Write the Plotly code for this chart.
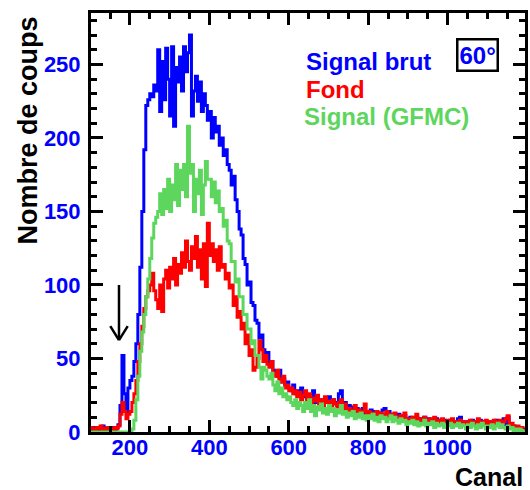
import plotly.graph_objects as go

# bin start channels (5-channel bins)
channels = list(range(100, 1200, 5))

signal_brut = [
    2, 1, 3, 0, 2, 1, 4, 2, 0, 1,
    2, 3, 1, 3, 5, 18, 52, 26, 14, 30,
    35, 38, 48, 60, 80, 112, 150, 192, 222, 226,
    230, 228, 236, 232, 260, 218, 252, 226, 261, 240,
    215, 262, 208, 248, 238, 255, 232, 262, 245, 258,
    270, 215, 232, 242, 225, 238, 218, 230, 222, 212,
    218, 200, 214, 204, 208, 195, 200, 188, 192, 182,
    178, 168, 174, 158, 150, 138, 134, 118, 114, 100,
    102, 88, 86, 76, 74, 64, 66, 56, 50, 54,
    46, 48, 42, 40, 38, 42, 34, 36, 32, 34,
    30, 28, 32, 26, 28, 25, 30, 24, 26, 23,
    24, 22, 28, 20, 24, 21, 22, 19, 22, 20,
    24, 18, 22, 20, 19, 26, 28, 18, 20, 17,
    18, 16, 17, 14, 16, 13, 15, 16, 12, 14,
    13, 15, 12, 14, 11, 13, 10, 15, 16, 12,
    14, 10, 12, 11, 9, 12, 10, 8, 11, 9,
    8, 10, 9, 7, 10, 8, 9, 7, 10, 8,
    9, 7, 8, 6, 9, 7, 8, 5, 8, 6,
    7, 8, 5, 7, 6, 9, 10, 6, 7, 5,
    7, 6, 8, 5, 7, 6, 8, 5, 7, 6,
    6, 7, 5, 6, 8, 5, 7, 6, 9, 5,
    10, 4, 3, 4, 2, 3, 2, 1, 2, 1,
]

fond = [
    3, 2, 1, 3, 2, 4, 1, 2, 3, 1,
    2, 1, 3, 2, 4, 12, 20, 14, 9, 12,
    14, 20, 26, 35, 48, 60, 72, 84, 92, 96,
    100, 108, 96, 90, 84, 100, 82, 104, 110, 98,
    112, 104, 118, 100, 114, 108, 122, 112, 130, 116,
    110, 126, 118, 133, 112, 124, 104, 128, 99, 142,
    120, 128, 116, 124, 110, 126, 112, 114, 104, 108,
    98, 100, 86, 92, 78, 82, 70, 74, 60, 66,
    52, 56, 42, 44, 50, 62, 56, 48, 52, 46,
    44, 48, 40, 38, 42, 36, 34, 38, 30, 32,
    28, 30, 26, 28, 24, 27, 22, 25, 28, 22,
    26, 20, 23, 21, 25, 19, 22, 18, 24, 20,
    21, 18, 22, 19, 17, 20, 22, 16, 19, 14,
    16, 13, 15, 18, 13, 15, 12, 14, 19, 12,
    14, 11, 13, 10, 14, 12, 13, 10, 12, 14,
    10, 12, 9, 13, 10, 8, 11, 9, 13, 8,
    9, 7, 10, 8, 12, 7, 9, 8, 10, 6,
    8, 9, 6, 10, 7, 8, 6, 9, 7, 5,
    8, 6, 9, 5, 7, 6, 8, 7, 5, 7,
    6, 8, 5, 7, 6, 9, 5, 7, 6, 8,
    5, 7, 6, 8, 5, 7, 8, 6, 7, 9,
    11, 5, 6, 4, 3, 4, 2, 3, 1, 2,
]

signal_gfmc = [
    0, 0, 0, 0, 0, 0, 0, 0, 0, 0,
    0, 0, 0, 0, 0, 0, 0, 0, 0, 0,
    0, 2, 8, 22, 38, 55, 68, 80, 92, 104,
    118, 132, 142, 146, 150, 162, 148, 165, 152, 172,
    150, 168, 158, 182, 154, 178, 165, 182, 160, 208,
    176, 182, 150, 172, 162, 178, 148, 168, 184, 172,
    172, 160, 170, 156, 164, 150, 152, 140, 144, 130,
    128, 116, 116, 102, 104, 92, 92, 80, 80, 70,
    70, 60, 62, 52, 52, 44, 36, 44, 42, 38,
    36, 40, 32, 28, 34, 26, 30, 24, 26, 22,
    24, 20, 18, 22, 16, 20, 18, 14, 20, 16,
    22, 14, 18, 11, 17, 15, 19, 13, 16, 12,
    18, 14, 16, 11, 15, 13, 18, 12, 14, 10,
    13, 11, 14, 9, 12, 10, 13, 9, 11, 8,
    11, 9, 12, 8, 10, 7, 11, 9, 10, 7,
    9, 11, 7, 10, 8, 6, 9, 7, 8, 5,
    7, 6, 8, 5, 7, 4, 6, 5, 8, 4,
    6, 5, 7, 3, 6, 4, 5, 6, 3, 5,
    4, 6, 3, 5, 4, 6, 3, 5, 4, 2,
    5, 3, 6, 4, 2, 5, 3, 6, 4, 2,
    4, 3, 5, 2, 4, 6, 3, 5, 3, 2,
    4, 2, 3, 1, 2, 1, 2, 1, 0, 1,
]

x_tick_vals = [200, 400, 600, 800, 1000]
y_tick_vals = [0, 50, 100, 150, 200, 250]

BLUE = "#0000ff"
RED = "#ff0000"
GREEN = "#5dd65d"
FONT = "Liberation Sans"

fig = go.Figure()
for vals, col, name in [(signal_brut, BLUE, "Signal brut"),
                        (fond, RED, "Fond"),
                        (signal_gfmc, GREEN, "Signal (GFMC)")]:
    fig.add_trace(go.Scatter(x=channels, y=vals, mode="lines", name=name,
                             line=dict(color=col, width=3, shape="hv"),
                             showlegend=False))

axis_common = dict(
    showline=True, linecolor="black", linewidth=3, mirror="allticks",
    ticks="inside", ticklen=12, tickwidth=2.5, tickcolor="black",
    showgrid=False, zeroline=False,
    tickfont=dict(family=FONT, size=22, color=BLUE, weight="bold"),
)

fig.update_layout(
    width=530, height=490,
    margin=dict(l=91, r=2, t=13, b=58),
    plot_bgcolor="white", paper_bgcolor="white",
    xaxis=dict(range=[102, 1195], tickvals=x_tick_vals, ticklabelstandoff=-6,
               minor=dict(dtick=50, tick0=0, ticks="inside", ticklen=6,
                          tickwidth=2.5, tickcolor="black", showgrid=False),
               **axis_common),
    yaxis=dict(range=[0, 285], tickvals=y_tick_vals, ticklabelstandoff=3,
               minor=dict(dtick=10, tick0=0, ticks="inside", ticklen=6,
                          tickwidth=2.5, tickcolor="black", showgrid=False),
               **axis_common),
)

txt = dict(family=FONT, size=24, weight="bold")
fig.add_annotation(text="Signal brut", xref="paper", yref="paper",
                   x=(305 - 91) / 437, y=(432 - 61) / 419, xanchor="left", yanchor="middle",
                   showarrow=False, font=dict(color=BLUE, **txt))
fig.add_annotation(text="Fond", xref="paper", yref="paper",
                   x=(305 - 91) / 437, y=(432 - 89) / 419, xanchor="left", yanchor="middle",
                   showarrow=False, font=dict(color=RED, **txt))
fig.add_annotation(text="Signal (GFMC)", xref="paper", yref="paper",
                   x=(303 - 91) / 437, y=(432 - 116) / 419, xanchor="left", yanchor="middle",
                   showarrow=False, font=dict(color=GREEN, **txt))
fig.add_annotation(text="60°", xref="paper", yref="paper",
                   x=(480 - 91) / 437, y=(432 - 55) / 419, xanchor="center", yanchor="middle",
                   showarrow=False, font=dict(color=BLUE, **txt),
                   bordercolor="black", borderwidth=2.5, borderpad=1, bgcolor="white")
fig.add_annotation(text="Nombre de coups", xref="paper", yref="paper",
                   x=(28 - 91) / 437, y=(432 - 130) / 419, xanchor="center", yanchor="middle",
                   textangle=-90, showarrow=False,
                   font=dict(family=FONT, size=27, color="black", weight="bold"))
fig.add_annotation(text="Canal", xref="paper", yref="paper",
                   x=1.0, y=(432 - 477) / 419, xanchor="right", yanchor="middle",
                   showarrow=False,
                   font=dict(family=FONT, size=25, color="black", weight="bold"))

# arrow pointing to the peak
ax_ch = 172.5
fig.add_shape(type="line", xref="x", yref="y", x0=ax_ch, x1=ax_ch, y0=100, y1=62.5,
              line=dict(color="black", width=2.5))
fig.add_shape(type="line", xref="x", yref="y", x0=ax_ch - 22, x1=ax_ch, y0=72, y1=62.5,
              line=dict(color="black", width=2.5))
fig.add_shape(type="line", xref="x", yref="y", x0=ax_ch + 22, x1=ax_ch, y0=72, y1=62.5,
              line=dict(color="black", width=2.5))

fig.write_html("out.html", config={"displayModeBar": False},
               post_script="document.body.style.margin='0';")
